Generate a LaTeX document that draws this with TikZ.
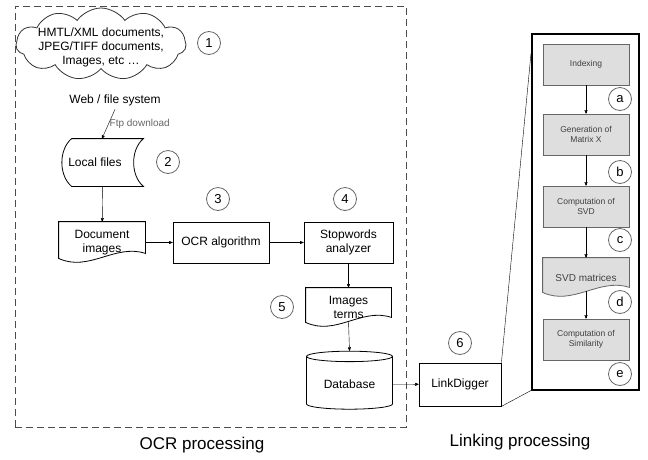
\documentclass[tikz,border=0pt]{standalone}
\usepackage{fontspec}
\setmainfont{Liberation Sans}
\usetikzlibrary{arrows, positioning, calc, shapes.symbols, shapes.geometric, backgrounds}

\newcommand{\boxfont}{\fontsize{12}{14}\selectfont}
\newcommand{\stagefont}{\fontsize{8.5}{10.5}\selectfont}

\begin{document}
\begin{tikzpicture}[x=1pt, y=-1pt, >=stealth', line width=0.8pt,
    box/.style={rectangle, draw, minimum width=86pt, minimum height=41pt, align=center, font=\boxfont, inner sep=2pt},
    doc/.style={rectangle, minimum width=86pt, minimum height=41pt, align=center, font=\boxfont, inner sep=2pt},
    outline/.style={draw=black, line width=0.8pt},
    num/.style={circle, draw=black!60, minimum size=23pt, inner sep=0pt, font=\fontsize{13}{13}\selectfont},
    stage/.style={rectangle, draw=black!60, fill=black!13, minimum width=86pt, minimum height=41pt, align=center, font=\stagefont, text=black!75},
    caption/.style={font=\fontsize{17}{17}\selectfont}]
  \useasboundingbox (0,0) rectangle (648,459);

  % OCR processing
  \node[draw=black!70, dash pattern=on 7pt off 4pt, minimum width=391pt, minimum height=421pt] (ocrframe) at (210.5,216.5) {};
  \node[cloud, draw=black!80, cloud puffs=11, cloud puff arc=110, aspect=2.4, minimum width=170pt, minimum height=72pt, inner sep=0pt] (cloud) at (101,44) {};
  \node[align=center, font=\boxfont] (cloudtxt) at (101,47) {HMTL/XML documents,\\JPEG/TIFF documents,\\Images, etc …};
  \node[font=\boxfont] (websys) at (115,100) {Web / file system};
  \node[doc, minimum width=82pt, minimum height=47pt] (local) at (103,162.5) {Local files\hspace*{16pt}};
  \node[doc] (docimg) at (102,242.5) {Document\\images};
  \node[box, minimum width=96pt] (ocr) at (221,242.5) {OCR algorithm};
  \node[box, minimum width=89pt] (stopw) at (348.5,242.5) {Stopwords\\analyzer};
  \node[doc, minimum width=85pt, minimum height=39pt] (imgterms) at (348.5,307.5) {Images\\terms};
  \node[cylinder, draw, shape border rotate=90, aspect=0.18, minimum width=86pt, minimum height=58pt, font=\boxfont] (db) at (349.5,384) {Database};

  \node[num] (n1) at (209,43) {1};
  \node[num] (n2) at (168,162) {2};
  \node[num] (n3) at (218,199) {3};
  \node[num] (n4) at (345,199) {4};
  \node[num] (n5) at (282,307) {5};

  % Linking processing
  \node[box, minimum width=82pt, minimum height=43pt] (link) at (460,384.5) {LinkDigger};
  \node[num] (n6) at (460,343) {6};
  \node[draw, line width=2pt, minimum width=107pt, minimum height=356pt] (panel) at (585.5,211.5) {};
  \node[stage] (idx) at (586,64.5) {Indexing};
  \node[stage] (genx) at (586,134.5) {Generation of\\Matrix X};
  \node[stage] (svd) at (586,206.5) {Computation of\\SVD};
  \node[doc, minimum height=39pt, font=\fontsize{10}{12}\selectfont, text=black!75] (svdmat) at (586,277.5) {SVD matrices};
  \node[stage] (simil) at (586,339.5) {Computation of\\Similarity};
  \node[num] (na) at (620,99) {a};
  \node[num] (nb) at (620,172) {b};
  \node[num] (nc) at (620,240) {c};
  \node[num] (nd) at (620,302) {d};
  \node[num] (ne) at (620,374) {e};

  \node[caption] (ocrcap) at (202,445) {OCR processing};
  \node[caption] (linkcap) at (520,442) {Linking processing};

  % shapes behind the texts
  \begin{pgfonlayer}{background}
    \draw[outline] ([xshift=10pt]local.north west) -- ([xshift=-1pt]local.north east)
      .. controls +(-13,11) and +(-13,-11) .. ([xshift=-1pt]local.south east)
      -- ([xshift=10pt]local.south west)
      .. controls +(-13,-11) and +(-13,11) .. ([xshift=10pt]local.north west);
    \foreach \n/\c/\d in {docimg/white/black, imgterms/white/black, svdmat/black!13/black!60}
      \draw[outline, draw=\d, fill=\c] (\n.north west) -- ([yshift=5pt]\n.south west)
        .. controls +(30,14) and +(-30,-10) .. ([yshift=10pt]\n.south east)
        -- (\n.north east) -- cycle;
  \end{pgfonlayer}

  % connectors
  \draw[->] (websys.south) -- node[right, pos=0.5, inner sep=1pt, font=\fontsize{10}{12}\selectfont, text=black!60] {Ftp download} ([xshift=-1pt]local.north);
  \draw[->] (local) -- (docimg);
  \draw[->] (docimg) -- (ocr);
  \draw[->] (ocr) -- (stopw);
  \draw[->] (stopw) -- (imgterms);
  \draw[->] ([yshift=6pt]imgterms.south) -- (db.north);
  \draw[->] (db) -- (link);
  \draw (link.north east) -- ([yshift=-21pt]panel.north west);
  \draw (link.south east) -- (panel.south west);
  \draw[->] (idx) -- (genx);
  \draw[->] (genx) -- (svd);
  \draw[->] (svd) -- (svdmat);
  \draw[->] ([yshift=6pt]svdmat.south) -- (simil);
\end{tikzpicture}
\end{document}
